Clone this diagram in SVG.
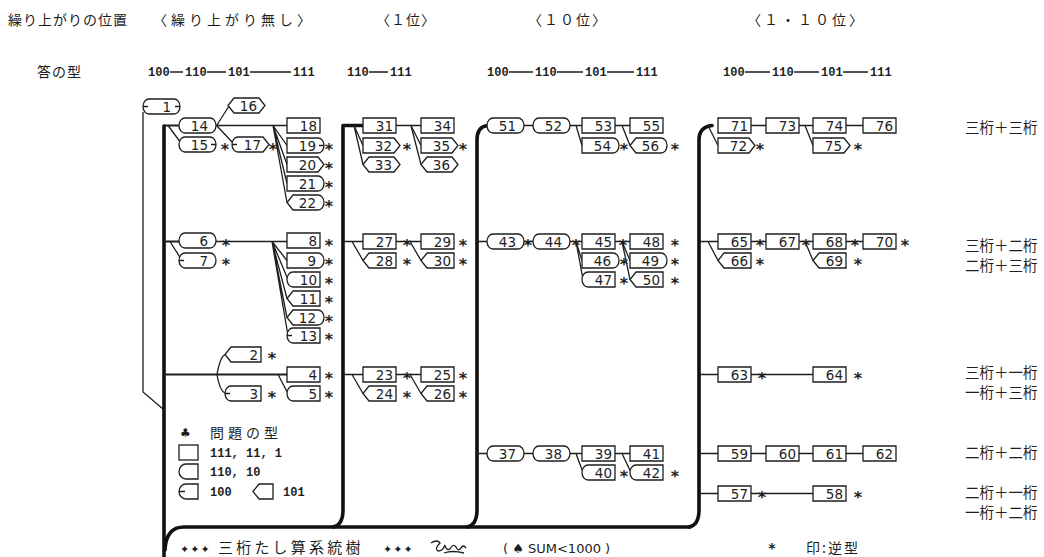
<svg xmlns="http://www.w3.org/2000/svg" width="1044" height="557" viewBox="0 0 1044 557">
<style>
.n path{fill:#fff;stroke:#1e1e1e;stroke-width:1.3}
.n text{font-family:"DejaVu Sans",sans-serif;font-size:13.5px;fill:#1e1e1e;text-anchor:end}
.ln{stroke:#1e1e1e;stroke-width:1.3;fill:none}
.tr{stroke:#111;stroke-width:3.6;fill:none;stroke-linecap:round;stroke-linejoin:round}
.st{font-family:"DejaVu Sans",sans-serif;font-weight:bold;font-size:16px;fill:#1e1e1e;text-anchor:middle}
.jp{font-family:"Noto Sans CJK JP",sans-serif;fill:#1e1e1e}
.rl{font-family:"Noto Sans CJK JP",sans-serif;fill:#1e1e1e;font-size:14.5px}
.sym{font-family:"DejaVu Sans",sans-serif;fill:#1e1e1e}
.pat{font-family:"Liberation Mono",monospace;font-weight:bold;font-size:12px;fill:#1e1e1e}
.ic{fill:#fff;stroke:#1e1e1e;stroke-width:1.3}
.dash{stroke:#1e1e1e;stroke-width:1.3}
</style>
<rect width="1044" height="557" fill="#fff"/>

<g id="header">
<text class="jp" x="8" y="25" font-size="14" letter-spacing="1">繰り上がりの位置</text>
<text class="jp" x="153" y="25" font-size="14" letter-spacing="4">〈繰り上がり無し〉</text>
<text class="jp" x="376" y="25" font-size="14" letter-spacing="1">〈１位〉</text>
<text class="jp" x="528" y="25" font-size="14" letter-spacing="2">〈１０位〉</text>
<text class="jp" x="747" y="25" font-size="14" letter-spacing="3">〈１・１０位〉</text>
<text class="jp" x="37" y="77" font-size="14" letter-spacing="1">答の型</text>
<text class="pat" y="76"><tspan x="148">100</tspan><tspan x="185">110</tspan><tspan x="228">101</tspan><tspan x="293">111</tspan></text>
<text class="pat" y="76"><tspan x="347">110</tspan><tspan x="390">111</tspan></text>
<text class="pat" y="76"><tspan x="487">100</tspan><tspan x="535">110</tspan><tspan x="585">101</tspan><tspan x="636">111</tspan></text>
<text class="pat" y="76"><tspan x="723">100</tspan><tspan x="772">110</tspan><tspan x="821">101</tspan><tspan x="870">111</tspan></text>
<path class="dash" d="M170,72 H183 M207,72 H226 M250,72 H291 M369,72 H388 M509,72 H533 M557,72 H583 M607,72 H634 M745,72 H770 M794,72 H819 M843,72 H868"/>
</g>

<g id="connectors">
<path class="tr" d="M164,126 V557"/>
<path class="tr" d="M363,125.5 H343 V510 Q343,525 333,527"/>
<path class="tr" d="M487,125.5 Q477,127 477,140 V510 Q477,525 467,527"/>
<path class="tr" d="M712,125.5 Q699,127 699,140 V510 Q699,525 689,527"/>
<path class="tr" d="M165,550 Q166,527 184,527 H690"/>
<path class="ln" style="stroke-width:2" d="M164,125.5 H179 M164,241.5 H179 M164,374.5 H287"/>
<path class="ln" d="M168,125.5 L181,143 M216,125.5 H287 M217,125 L229,106 M217,126 L233,143 M273,125.5 L287,145.5 M273,125.5 L287,164.5 M273,125.5 L287,183.5 M273,125.5 L287,202.5 M170,241.5 L181,259 M216,241.5 H287 M272,241.5 L287,260.5 M272,241.5 L288,279.5 M272,241.5 L287,298.5 M272,241.5 L287,317.5 M272,241.5 L288,335.5 M217,374.5 Q220,357 225,354.5 M217,374.5 Q220,392 226,393.5 M278,374.5 L288,393.5 M143,112 V392 L163,409"/>
<path class="ln" d="M354,125.5 L363,145.5 M354,125.5 L363,164.5 M396,125.5 H421 M411,125.5 L421,145.5 M411,125.5 L421,164.5 M343,241.5 H363 M352,241.5 L363,260.5 M396,241.5 H421 M410,241.5 L421,260.5 M343,374.5 H363 M352,374.5 L363,393.5 M396,374.5 H421 M410,374.5 L421,393.5"/>
<path class="ln" d="M524,125.5 H533 M570,125.5 H582 M576,125.5 L582,145.5 M615,125.5 H630 M622,125.5 L630,145.5 M477,241.5 H487 M524,241.5 H533 M570,241.5 H582 M576,241.5 L582,260.5 M576,241.5 L583,279.5 M615,241.5 H630 M622,241.5 L630,260.5 M622,241.5 L630,279.5 M477,453.5 H487 M524,453.5 H533 M570,453.5 H582 M576,453.5 L583,472.5 M615,453.5 H630 M622,453.5 L631,472.5"/>
<path class="ln" d="M751,125.5 H766 M799,125.5 H813 M846,125.5 H863 M708,125.5 L718,145.5 M805,125.5 L813,145.5 M699,241.5 H718 M708,241.5 L718,260.5 M751,241.5 H766 M799,241.5 H813 M805,241.5 L813,260.5 M846,241.5 H863 M699,374.5 H718 M751,374.5 H813 M699,453.5 H718 M751,453.5 H766 M799,453.5 H813 M846,453.5 H863 M699,493.5 H718 M751,493.5 H813"/>
</g>

<g id="nodes">
<g id="n1" class="n"><path d="M149,99 H174 A6 7.5 0 0 1 174,114 H149 A6 7.5 0 0 1 149,99 Z M143,106.5 h5 M180,106.5 h-5"/><text x="171" y="111.5">1</text></g>
<g id="n16" class="n"><path d="M234,98 H259 L265,105.5 L259,113 H234 L228,105.5 Z"/><text x="257" y="110.5">16</text></g>
<g id="n14" class="n"><path d="M185,118 H210 A6 7.5 0 0 1 210,133 H185 A6 7.5 0 0 1 185,118 Z"/><text x="208" y="130.5">14</text></g>
<g id="n15" class="n"><path d="M185,137 H210 A6 7.5 0 0 1 210,152 H185 A6 7.5 0 0 1 185,137 Z M216,144.5 h-5"/><text x="208" y="149.5">15</text></g>
<g id="n17" class="n"><path d="M238,137 H263 L269,144.5 L263,152 H238 A6 7.5 0 0 1 238,137 Z M232,144.5 h5"/><text x="261" y="149.5">17</text></g>
<g id="n18" class="n"><path d="M287,118 H320 V133 H287 Z"/><text x="317" y="130.5">18</text></g>
<g id="n19" class="n"><path d="M287,138 H318 A6 7.5 0 0 1 318,153 H287 Z M324,145.5 h-5"/><text x="316" y="150.5">19</text></g>
<g id="n20" class="n"><path d="M287,157 H318 L324,164.5 L318,172 H287 Z"/><text x="316" y="169.5">20</text></g>
<g id="n21" class="n"><path d="M287,176 H318 A6 7.5 0 0 1 318,191 H287 Z"/><text x="316" y="188.5">21</text></g>
<g id="n22" class="n"><path d="M293,195 H318 A6 7.5 0 0 1 318,210 H293 L287,202.5 Z"/><text x="316" y="207.5">22</text></g>
<g id="n6" class="n"><path d="M185,233 H210 A6 7.5 0 0 1 210,248 H185 A6 7.5 0 0 1 185,233 Z"/><text x="208" y="245.5">6</text></g>
<g id="n7" class="n"><path d="M185,253 H210 A6 7.5 0 0 1 210,268 H185 A6 7.5 0 0 1 185,253 Z M179,260.5 h5"/><text x="208" y="265.5">7</text></g>
<g id="n8" class="n"><path d="M287,233 H320 V248 H287 Z"/><text x="317" y="245.5">8</text></g>
<g id="n9" class="n"><path d="M287,253 H318 A6 7.5 0 0 1 318,268 H287 Z"/><text x="316" y="265.5">9</text></g>
<g id="n10" class="n"><path d="M293,272 H320 V287 H293 A6 7.5 0 0 1 293,272 Z"/><text x="317" y="284.5">10</text></g>
<g id="n11" class="n"><path d="M293,291 H320 V306 H293 L287,298.5 Z"/><text x="317" y="303.5">11</text></g>
<g id="n12" class="n"><path d="M293,310 H318 A6 7.5 0 0 1 318,325 H293 L287,317.5 Z"/><text x="316" y="322.5">12</text></g>
<g id="n13" class="n"><path d="M293,328 H320 V343 H293 A6 7.5 0 0 1 293,328 Z M287,335.5 h5"/><text x="317" y="340.5">13</text></g>
<g id="n2" class="n"><path d="M231,347 H261 V362 H231 L225,354.5 Z"/><text x="258" y="359.5">2</text></g>
<g id="n4" class="n"><path d="M287,367 H320 V382 H287 Z"/><text x="317" y="379.5">4</text></g>
<g id="n3" class="n"><path d="M231,386 H261 V401 H231 A6 7.5 0 0 1 231,386 Z M225,393.5 h5"/><text x="258" y="398.5">3</text></g>
<g id="n5" class="n"><path d="M293,386 H320 V401 H293 A6 7.5 0 0 1 293,386 Z"/><text x="317" y="398.5">5</text></g>

<g id="n31" class="n"><path d="M363,118 H396 V133 H363 Z"/><text x="393" y="130.5">31</text></g>
<g id="n32" class="n"><path d="M363,138 H394 L400,145.5 L394,153 H363 Z"/><text x="392" y="150.5">32</text></g>
<g id="n33" class="n"><path d="M369,157 H394 L400,164.5 L394,172 H369 L363,164.5 Z"/><text x="392" y="169.5">33</text></g>
<g id="n34" class="n"><path d="M421,118 H454 V133 H421 Z"/><text x="451" y="130.5">34</text></g>
<g id="n35" class="n"><path d="M421,138 H452 L458,145.5 L452,153 H421 Z"/><text x="450" y="150.5">35</text></g>
<g id="n36" class="n"><path d="M427,157 H452 L458,164.5 L452,172 H427 L421,164.5 Z"/><text x="450" y="169.5">36</text></g>
<g id="n27" class="n"><path d="M363,234 H396 V249 H363 Z"/><text x="393" y="246.5">27</text></g>
<g id="n28" class="n"><path d="M369,253 H396 V268 H369 L363,260.5 Z"/><text x="393" y="265.5">28</text></g>
<g id="n29" class="n"><path d="M421,234 H454 V249 H421 Z"/><text x="451" y="246.5">29</text></g>
<g id="n30" class="n"><path d="M427,253 H454 V268 H427 L421,260.5 Z"/><text x="451" y="265.5">30</text></g>
<g id="n23" class="n"><path d="M363,367 H396 V382 H363 Z"/><text x="393" y="379.5">23</text></g>
<g id="n24" class="n"><path d="M369,386 H396 V401 H369 L363,393.5 Z"/><text x="393" y="398.5">24</text></g>
<g id="n25" class="n"><path d="M421,367 H454 V382 H421 Z"/><text x="451" y="379.5">25</text></g>
<g id="n26" class="n"><path d="M427,386 H454 V401 H427 L421,393.5 Z"/><text x="451" y="398.5">26</text></g>

<g id="n51" class="n"><path d="M493,118 H518 A6 7.5 0 0 1 518,133 H493 A6 7.5 0 0 1 493,118 Z"/><text x="516" y="130.5">51</text></g>
<g id="n52" class="n"><path d="M539,118 H564 A6 7.5 0 0 1 564,133 H539 A6 7.5 0 0 1 539,118 Z"/><text x="562" y="130.5">52</text></g>
<g id="n53" class="n"><path d="M582,118 H615 V133 H582 Z"/><text x="612" y="130.5">53</text></g>
<g id="n54" class="n"><path d="M582,138 H613 A6 7.5 0 0 1 613,153 H582 Z"/><text x="611" y="150.5">54</text></g>
<g id="n55" class="n"><path d="M630,118 H663 V133 H630 Z"/><text x="660" y="130.5">55</text></g>
<g id="n56" class="n"><path d="M636,138 H661 A6 7.5 0 0 1 661,153 H636 L630,145.5 Z"/><text x="659" y="150.5">56</text></g>
<g id="n43" class="n"><path d="M493,234 H518 A6 7.5 0 0 1 518,249 H493 A6 7.5 0 0 1 493,234 Z"/><text x="516" y="246.5">43</text></g>
<g id="n44" class="n"><path d="M539,234 H564 A6 7.5 0 0 1 564,249 H539 A6 7.5 0 0 1 539,234 Z"/><text x="562" y="246.5">44</text></g>
<g id="n45" class="n"><path d="M582,234 H615 V249 H582 Z"/><text x="612" y="246.5">45</text></g>
<g id="n46" class="n"><path d="M582,253 H613 A6 7.5 0 0 1 613,268 H582 Z"/><text x="611" y="265.5">46</text></g>
<g id="n47" class="n"><path d="M588,272 H615 V287 H588 A6 7.5 0 0 1 588,272 Z"/><text x="612" y="284.5">47</text></g>
<g id="n48" class="n"><path d="M630,234 H663 V249 H630 Z"/><text x="660" y="246.5">48</text></g>
<g id="n49" class="n"><path d="M630,253 H661 A6 7.5 0 0 1 661,268 H630 Z"/><text x="659" y="265.5">49</text></g>
<g id="n50" class="n"><path d="M636,272 H663 V287 H636 L630,279.5 Z"/><text x="660" y="284.5">50</text></g>
<g id="n37" class="n"><path d="M493,446 H518 A6 7.5 0 0 1 518,461 H493 A6 7.5 0 0 1 493,446 Z"/><text x="516" y="458.5">37</text></g>
<g id="n38" class="n"><path d="M539,446 H564 A6 7.5 0 0 1 564,461 H539 A6 7.5 0 0 1 539,446 Z"/><text x="562" y="458.5">38</text></g>
<g id="n39" class="n"><path d="M582,446 H615 V461 H582 Z"/><text x="612" y="458.5">39</text></g>
<g id="n40" class="n"><path d="M588,465 H615 V480 H588 A6 7.5 0 0 1 588,465 Z"/><text x="612" y="477.5">40</text></g>
<g id="n41" class="n"><path d="M630,446 H663 V461 H630 Z"/><text x="660" y="458.5">41</text></g>
<g id="n42" class="n"><path d="M636,465 H663 V480 H636 A6 7.5 0 0 1 636,465 Z"/><text x="660" y="477.5">42</text></g>

<g id="n71" class="n"><path d="M718,118 H751 V133 H718 Z"/><text x="748" y="130.5">71</text></g>
<g id="n72" class="n"><path d="M718,138 H749 L755,145.5 L749,153 H718 Z"/><text x="747" y="150.5">72</text></g>
<g id="n73" class="n"><path d="M766,118 H799 V133 H766 Z"/><text x="796" y="130.5">73</text></g>
<g id="n74" class="n"><path d="M813,118 H846 V133 H813 Z"/><text x="843" y="130.5">74</text></g>
<g id="n75" class="n"><path d="M813,138 H844 L850,145.5 L844,153 H813 Z"/><text x="842" y="150.5">75</text></g>
<g id="n76" class="n"><path d="M863,118 H896 V133 H863 Z"/><text x="893" y="130.5">76</text></g>
<g id="n65" class="n"><path d="M718,234 H751 V249 H718 Z"/><text x="748" y="246.5">65</text></g>
<g id="n66" class="n"><path d="M724,253 H751 V268 H724 L718,260.5 Z"/><text x="748" y="265.5">66</text></g>
<g id="n67" class="n"><path d="M766,234 H799 V249 H766 Z"/><text x="796" y="246.5">67</text></g>
<g id="n68" class="n"><path d="M813,234 H846 V249 H813 Z"/><text x="843" y="246.5">68</text></g>
<g id="n69" class="n"><path d="M819,253 H846 V268 H819 L813,260.5 Z"/><text x="843" y="265.5">69</text></g>
<g id="n70" class="n"><path d="M863,234 H896 V249 H863 Z"/><text x="893" y="246.5">70</text></g>
<g id="n63" class="n"><path d="M718,367 H751 V382 H718 Z"/><text x="748" y="379.5">63</text></g>
<g id="n64" class="n"><path d="M813,367 H846 V382 H813 Z"/><text x="843" y="379.5">64</text></g>
<g id="n59" class="n"><path d="M718,446 H751 V461 H718 Z"/><text x="748" y="458.5">59</text></g>
<g id="n60" class="n"><path d="M766,446 H799 V461 H766 Z"/><text x="796" y="458.5">60</text></g>
<g id="n61" class="n"><path d="M813,446 H846 V461 H813 Z"/><text x="843" y="458.5">61</text></g>
<g id="n62" class="n"><path d="M863,446 H896 V461 H863 Z"/><text x="893" y="458.5">62</text></g>
<g id="n57" class="n"><path d="M718,486 H751 V501 H718 Z"/><text x="748" y="498.5">57</text></g>
<g id="n58" class="n"><path d="M813,486 H846 V501 H813 Z"/><text x="843" y="498.5">58</text></g>
</g>

<g id="marks">
<text class="st" x="225" y="155">*</text><text class="st" x="273" y="155">*</text>
<text class="st" x="329" y="155">*</text><text class="st" x="329" y="174">*</text><text class="st" x="329" y="193">*</text><text class="st" x="329" y="212">*</text>
<text class="st" x="226" y="251">*</text><text class="st" x="226" y="270">*</text>
<text class="st" x="329" y="251">*</text><text class="st" x="329" y="270">*</text><text class="st" x="329" y="289">*</text><text class="st" x="329" y="308">*</text><text class="st" x="329" y="327">*</text><text class="st" x="329" y="345">*</text>
<text class="st" x="272" y="364">*</text><text class="st" x="272" y="403">*</text><text class="st" x="329" y="384">*</text><text class="st" x="329" y="403">*</text>
<text class="st" x="407" y="155">*</text><text class="st" x="463" y="155">*</text>
<text class="st" x="407" y="251">*</text><text class="st" x="407" y="270">*</text><text class="st" x="463" y="251">*</text><text class="st" x="463" y="270">*</text>
<text class="st" x="407" y="384">*</text><text class="st" x="407" y="403">*</text><text class="st" x="463" y="384">*</text><text class="st" x="463" y="403">*</text>
<text class="st" x="624" y="155">*</text><text class="st" x="675" y="155">*</text>
<text class="st" x="528" y="251">*</text><text class="st" x="576" y="251">*</text><text class="st" x="623" y="251">*</text>
<text class="st" x="624" y="270">*</text><text class="st" x="624" y="289">*</text>
<text class="st" x="675" y="251">*</text><text class="st" x="675" y="270">*</text><text class="st" x="675" y="289">*</text>
<text class="st" x="624" y="482">*</text><text class="st" x="675" y="482">*</text>
<text class="st" x="760" y="155">*</text><text class="st" x="858" y="155">*</text>
<text class="st" x="760" y="251">*</text><text class="st" x="806" y="251">*</text><text class="st" x="855" y="251">*</text><text class="st" x="905" y="251">*</text>
<text class="st" x="760" y="270">*</text><text class="st" x="858" y="270">*</text>
<text class="st" x="762" y="384">*</text><text class="st" x="858" y="384">*</text>
<text class="st" x="762" y="503">*</text><text class="st" x="858" y="503">*</text>
</g>

<g id="row-labels">
<text class="rl" x="965" y="133">三桁＋三桁</text>
<text class="rl" x="965" y="251">三桁＋二桁</text>
<text class="rl" x="965" y="271">二桁＋三桁</text>
<text class="rl" x="965" y="378">三桁＋一桁</text>
<text class="rl" x="965" y="398">一桁＋三桁</text>
<text class="rl" x="965" y="458">二桁＋二桁</text>
<text class="rl" x="965" y="498">二桁＋一桁</text>
<text class="rl" x="965" y="518">一桁＋二桁</text>
</g>

<g id="legend">
<text class="sym" x="180" y="437" font-size="12">♣</text>
<text class="jp" x="210" y="438" font-size="14" letter-spacing="4">問題の型</text>
<rect class="ic" x="179" y="445" width="19" height="15"/>
<text class="pat" x="210" y="457">111, 11, 1</text>
<path class="ic" d="M198,464 H186 A7 7.5 0 0 0 186,479 H198 Z"/>
<text class="pat" x="210" y="476">110, 10</text>
<path class="ic" d="M198,484 H186 A7 7.5 0 0 0 186,499 H198 Z M179,491.5 h6"/>
<text class="pat" x="210" y="496">100</text>
<path class="ic" d="M273,484 H259 L253,491.5 L259,499 H273 Z"/>
<text class="pat" x="283" y="496">101</text>
</g>

<g id="footer">
<text class="sym" x="180" y="553" font-size="11" letter-spacing="1">✦✦✦</text>
<text class="jp" x="218" y="553" font-size="15" letter-spacing="3.2">三桁たし算系統樹</text>
<text class="sym" x="383" y="553" font-size="11" letter-spacing="1">✦✦✦</text>
<path class="ln" d="M431,543 q6,-4 9,0 q-6,6 -2,8 q5,0 7,-6 q1,6 5,4 q3,-6 6,-2 q2,5 5,1 q2,-4 5,0 M444,553 q8,-3 20,0"/>
<text class="sym" x="503" y="553" font-size="13">( ♠ SUM&lt;1000 )</text>
<text class="st" x="772" y="553" style="font-size:14px">*</text>
<text class="jp" x="806" y="553" font-size="14" letter-spacing="2">印:逆型</text>
</g>
</svg>
